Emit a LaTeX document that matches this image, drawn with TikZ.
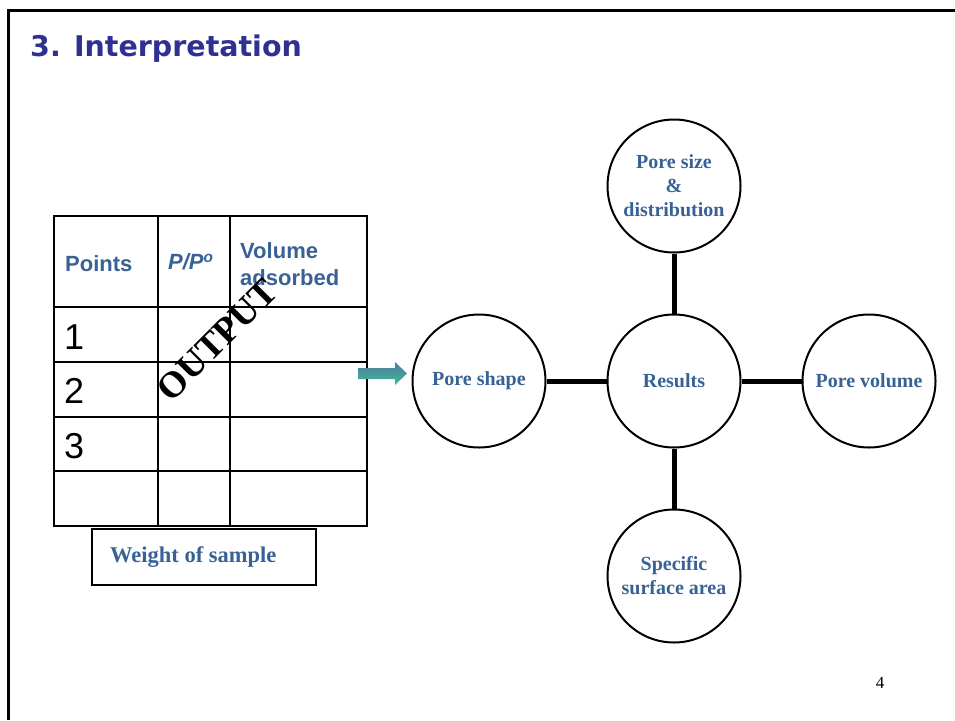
\documentclass[tikz,border=0pt]{standalone}
\usepackage{fontspec}
\setmainfont{Liberation Serif}
\setsansfont{Liberation Sans}
\newfontfamily\titlefont{DejaVu Sans}
\usetikzlibrary{arrows.meta}
\definecolor{txtblue}{RGB}{56,98,150}
\definecolor{ttlblue}{RGB}{46,49,146}
\definecolor{arrtop}{RGB}{84,118,158}
\definecolor{arrbot}{RGB}{56,190,150}
\tikzset{
  circ/.style={circle, draw, line width=2, minimum size=133, inner sep=0pt, align=center,
    text=txtblue, font=\bfseries\fontsize{20}{24}\selectfont},
  link/.style={line width=5},
  hdr/.style={text=txtblue, font=\sffamily\bfseries\fontsize{22}{27}\selectfont, align=left, inner sep=0pt},
  num/.style={font=\sffamily\fontsize{36}{38}\selectfont, inner sep=0pt, anchor=west},
  grid/.style={line width=1.3},
  outer/.style={line width=2.8}
}
\begin{document}
\begin{tikzpicture}[x=1pt,y=-1pt]
\useasboundingbox (0,0) rectangle (955,720);
% slide frame
\draw[line width=3] (8,720) -- (8,10) -- (955,10);
% title
\node[anchor=base west, inner sep=0pt, text=ttlblue, font=\titlefont\bfseries\fontsize{28.5}{30}\selectfont] (title) at (30,56) {3. Interpretation};
% table
\draw[grid] (158,216) -- (158,526) (230,216) -- (230,526);
\draw[grid] (54,307) -- (367,307) (54,362) -- (367,362) (54,417) -- (367,417) (54,471) -- (367,471);
\draw[outer] (54,216) rectangle (367,526);
\node[hdr, anchor=west] (hpts) at (65,264) {Points};
\node[hdr, anchor=west] (hpp) at (168,262) {\itshape P/P\textsuperscript{o}};
\node[hdr, anchor=west] (hvol) at (240,264) {Volume\\adsorbed};
\node[num] (n1) at (64,337) {1};
\node[num] (n2) at (64,391) {2};
\node[num] (n3) at (64,446) {3};
\node[rotate=45, inner sep=0pt, font=\bfseries\fontsize{37}{37}\selectfont] (out) at (217,340) {OUTPUT};
% weight box
\node[draw, line width=2.5, minimum width=224, minimum height=56, inner sep=0pt] (w) at (204,557) {};
\node[anchor=west, inner sep=0pt, text=txtblue, font=\bfseries\fontsize{22.5}{24}\selectfont] (wt) at (110,557) {Weight of sample};
% arrow
\shade[top color=arrtop, bottom color=arrbot] (358,368) -- (395,368) -- (395,362) -- (407,373.5)
  -- (395,385) -- (395,379) -- (358,379) -- cycle;
% circles
\node[circ] (res) at (674,381) {Results};
\node[circ] (size) at (674,186) {Pore size\\\&\\distribution};
\node[circ] (shape) at (479,381) {Pore shape};
\node[circ] (vol) at (869,381) {Pore volume};
\node[circ] (spec) at (674,576) {Specific\\surface area};
\draw[link] (res) -- (size);
\draw[link] (res) -- (shape);
\draw[link] (res) -- (vol);
\draw[link] (res) -- (spec);
% page number
\node[font=\fontsize{17}{17}\selectfont] (pg) at (880,683) {4};
\end{tikzpicture}
\end{document}
